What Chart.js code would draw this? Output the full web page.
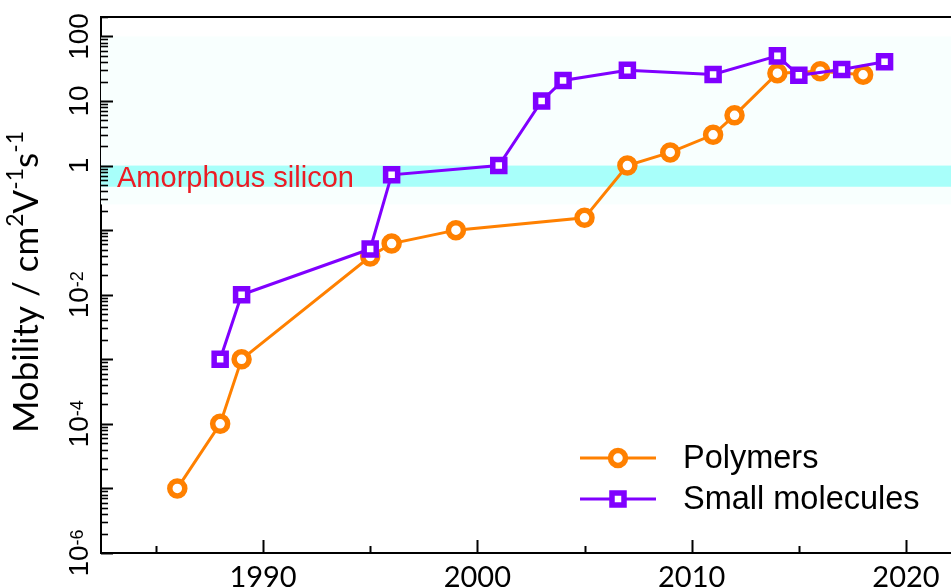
<!DOCTYPE html>
<html>
<head>
<meta charset="utf-8">
<script src="https://cdn.jsdelivr.net/npm/chart.js@4"></script>
<style>
  html, body { margin: 0; padding: 0; background: #fff; }
  #wrap { width: 951px; height: 587px; position: relative; }
</style>
</head>
<body>
<div id="wrap"><canvas id="mobilityChart"></canvas></div>
<script>
// Polymers (year, mobility in cm2/Vs)
const polymerYears = [1986, 1988, 1989, 1995, 1996, 1999, 2005, 2007, 2009, 2011, 2012, 2014, 2016, 2018];
const polymerMobility = [1e-5, 1e-4, 1e-3, 0.039, 0.062, 0.1, 0.155, 1.0, 1.6, 3.0, 6.0, 27, 29, 25.5];

// Small molecules
const smallYears = [1988, 1989, 1995, 1996, 2001, 2003, 2004, 2007, 2011, 2014, 2015, 2017, 2019];
const smallMobility = [1e-3, 1e-2, 0.051, 0.72, 1.0, 10, 20.8, 30, 25.8, 50, 25, 30.8, 40.5];

// axes
const xMajorTicks = [1990, 2000, 2010, 2020];
const xMinorTicks = [1985, 1995, 2005, 2015];
const yLabelTicks = [100, 10, 1, 1e-2, 1e-4, 1e-6];
const xRange = [1982.44, 2022.1];
const yRange = [1e-6, 200];

// amorphous silicon reference band
const amorphousSiRange = [0.47, 1];
const amorphousGlowRange = [0.25, 100];

const ORANGE = '#ff8000';
const PURPLE = '#8000ff';

function toPoints(xs, ys) {
    return xs.map((x, i) => ({ x: x, y: ys[i] }));
}

// draws text with superscript parts, in the current (possibly rotated) frame, centred on 0
function drawRich(ctx, parts, baseFont, supFont, raise) {
    let total = 0;
    parts.forEach(p => {
        ctx.font = p.sup ? supFont : baseFont;
        p.w = ctx.measureText(p.t).width;
        total += p.w;
    });
    let x = -total / 2;
    parts.forEach(p => {
        ctx.font = p.sup ? supFont : baseFont;
        ctx.fillText(p.t, x, p.sup ? -raise : 0);
        x += p.w;
    });
}

function yLabelParts(v) {
    if (v >= 1) return [{ t: String(v) }];
    return [{ t: '10' }, { t: String(Math.round(Math.log10(v))), sup: true }];
}

const decorPlugin = {
    id: 'decor',
    beforeDatasetsDraw(chart) {
        const { ctx, chartArea: a, scales: { y } } = chart;
        ctx.save();
        // faint glow round the band
        let top = y.getPixelForValue(amorphousGlowRange[1]);
        let bot = y.getPixelForValue(amorphousGlowRange[0]);
        ctx.fillStyle = '#f8fffe';
        ctx.fillRect(a.left, top, a.right - a.left, bot - top);
        // the band itself
        top = y.getPixelForValue(amorphousSiRange[1]);
        bot = y.getPixelForValue(amorphousSiRange[0]);
        ctx.fillStyle = '#a8fffa';
        ctx.fillRect(a.left, top, a.right - a.left, bot - top);

        ctx.fillStyle = '#ec1c24';
        ctx.font = '29px "Liberation Sans", Arial, sans-serif';
        ctx.textBaseline = 'alphabetic';
        ctx.textAlign = 'left';
        ctx.fillText('Amorphous silicon', a.left + 16, bot);
        ctx.restore();
    },
    afterDraw(chart) {
        const { ctx, chartArea: a, scales: { x, y } } = chart;
        ctx.save();
        ctx.strokeStyle = '#000';

        // top frame line
        ctx.lineWidth = 2;
        ctx.beginPath();
        ctx.moveTo(a.left, a.top);
        ctx.lineTo(a.right, a.top);
        ctx.stroke();

        // inward x ticks
        ctx.lineWidth = 2;
        xMajorTicks.concat(xMinorTicks).forEach(v => {
            const px = Math.round(x.getPixelForValue(v)) + 0.5;
            const len = xMajorTicks.includes(v) ? 13 : 7;
            ctx.beginPath();
            ctx.moveTo(px, a.bottom);
            ctx.lineTo(px, a.bottom - len);
            ctx.stroke();
        });

        // inward y ticks (decades + minor 2..9)
        for (let e = -6; e <= 2; e++) {
            for (let m = 1; m <= 9; m++) {
                const v = m * Math.pow(10, e);
                if (v > yRange[1]) break;
                const py = Math.round(y.getPixelForValue(v)) + 0.5;
                ctx.lineWidth = m === 1 ? 2 : 1.6;
                ctx.beginPath();
                ctx.moveTo(a.left, py);
                ctx.lineTo(a.left + (m === 1 ? 12 : 7), py);
                ctx.stroke();
            }
        }

        // y tick labels, rotated
        ctx.fillStyle = '#000';
        ctx.textBaseline = 'alphabetic';
        ctx.textAlign = 'left';
        yLabelTicks.forEach(v => {
            ctx.save();
            ctx.translate(a.left - 13, y.getPixelForValue(v));
            ctx.rotate(-Math.PI / 2);
            drawRich(ctx, yLabelParts(v), '28px "Liberation Sans", Arial, sans-serif',
                '18px "Liberation Sans", Arial, sans-serif', 5);
            ctx.restore();
        });

        // y axis title
        ctx.save();
        ctx.translate(38, 282);
        ctx.rotate(-Math.PI / 2);
        drawRich(ctx, [
            { t: 'Mobility / cm' }, { t: '2', sup: true }, { t: 'V' },
            { t: '-1', sup: true }, { t: 's' }, { t: '-1', sup: true }
        ], '35px Lato, "Open Sans", sans-serif', '23px Lato, "Open Sans", sans-serif', 15);
        ctx.restore();

        // legend: line + marker + label
        chart.data.datasets.forEach((ds, i) => {
            const ly = a.top + 441 + i * 41;
            ctx.strokeStyle = ds.borderColor;
            ctx.lineWidth = ds.borderWidth;
            ctx.beginPath();
            ctx.moveTo(580, ly);
            ctx.lineTo(656, ly);
            ctx.stroke();
            ctx.fillStyle = '#fff';
            ctx.lineWidth = ds.pointBorderWidth;
            Chart.helpers.drawPoint(ctx, {
                pointStyle: ds.pointStyle, radius: ds.pointRadius,
                rotation: 0, borderWidth: ds.pointBorderWidth
            }, 618, ly);
            ctx.fillStyle = '#000';
            ctx.font = '32.5px "Liberation Sans", Arial, sans-serif';
            ctx.textBaseline = 'middle';
            ctx.textAlign = 'left';
            ctx.fillText(ds.label, 683, ly + 1);
        });
        ctx.restore();
    }
};

document.addEventListener('DOMContentLoaded', function() {
    const ctx = document.getElementById('mobilityChart').getContext('2d');
    new Chart(ctx, {
        type: 'line',
        data: {
            datasets: [{
                label: 'Polymers',
                data: toPoints(polymerYears, polymerMobility),
                borderColor: ORANGE,
                backgroundColor: '#fff',
                borderWidth: 3,
                pointStyle: 'circle',
                pointRadius: 7.5,
                pointBorderWidth: 5.5,
                pointBackgroundColor: '#fff',
                pointBorderColor: ORANGE,
                tension: 0,
                order: 2
            }, {
                label: 'Small molecules',
                data: toPoints(smallYears, smallMobility),
                borderColor: PURPLE,
                backgroundColor: '#fff',
                borderWidth: 3,
                pointStyle: 'rect',
                pointRadius: 8.5,
                pointBorderWidth: 5.5,
                pointBackgroundColor: '#fff',
                pointBorderColor: PURPLE,
                tension: 0,
                order: 1
            }]
        },
        options: {
            responsive: true,
            maintainAspectRatio: false,
            animation: false,
            layout: { autoPadding: false, padding: { top: 17, left: 0, right: 0, bottom: 0 } },
            plugins: {
                legend: { display: false },
                tooltip: { enabled: false }
            },
            scales: {
                x: {
                    type: 'linear',
                    min: xRange[0],
                    max: xRange[1],
                    afterBuildTicks: s => { s.ticks = xMajorTicks.map(v => ({ value: v })); },
                    afterFit: s => { s.height = 34; s.paddingLeft = 0; s.paddingRight = 0; },
                    grid: { display: false, drawTicks: false },
                    border: { display: true, color: '#000', width: 2 },
                    ticks: {
                        padding: 7,
                        color: '#000',
                        maxRotation: 0,
                        autoSkip: false,
                        font: { family: 'Lato', size: 29 },
                        callback: v => String(v)
                    }
                },
                y: {
                    type: 'logarithmic',
                    min: yRange[0],
                    max: yRange[1],
                    afterFit: s => { s.width = 101; s.paddingTop = 0; s.paddingBottom = 0; },
                    grid: { display: false, drawTicks: false },
                    border: { display: true, color: '#000', width: 2 },
                    ticks: { display: false }
                }
            }
        },
        plugins: [decorPlugin]
    });
});
</script>
</body>
</html>
